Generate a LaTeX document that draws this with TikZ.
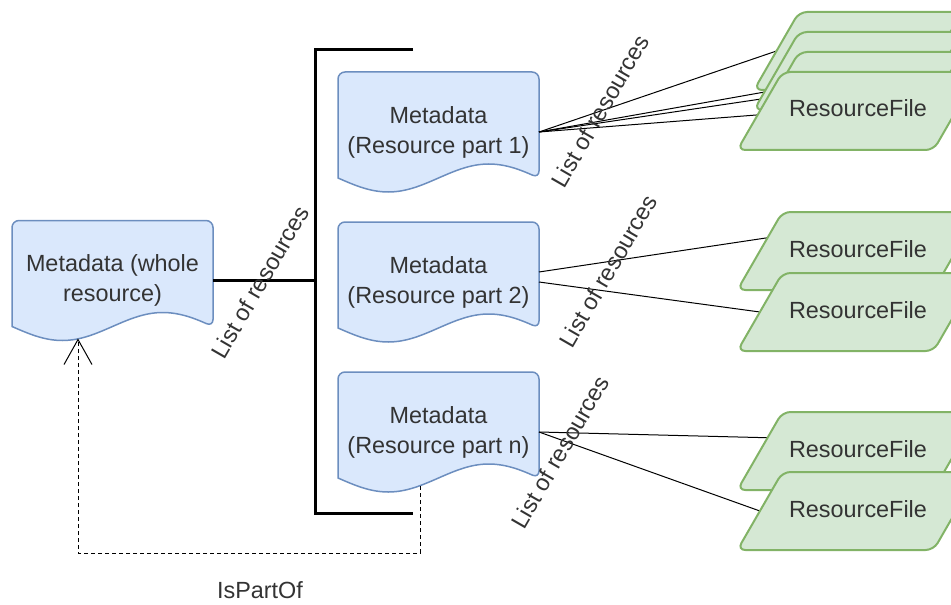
\documentclass[tikz,border=0pt]{standalone}
\usepackage{fontspec}
\setmainfont{Liberation Sans}
\usetikzlibrary{shapes.geometric, arrows.meta, calc, backgrounds}
\definecolor{docblue}{HTML}{DAE8FC}
\definecolor{docedge}{HTML}{6C8EBF}
\definecolor{filegreen}{HTML}{D5E8D4}
\definecolor{fileedge}{HTML}{82B366}
\definecolor{txt}{HTML}{333333}
\begin{document}
\begin{tikzpicture}[x=0.5pt, y=-0.5pt,
    every node/.style={font=\fontsize{11.7}{15}\selectfont, text=txt},
    doc/.style={minimum width=100.5pt, minimum height=60pt, inner sep=0pt, outer sep=0pt, align=center},
    docshape/.style={draw=docedge, fill=docblue, line width=0.75pt},
    file/.style={trapezium, trapezium left angle=60, trapezium right angle=120, trapezium stretches body,
        text height=8.5pt, text depth=2.5pt, inner ysep=14pt, outer sep=0pt,
        minimum width=104pt, minimum height=39pt, draw=fileedge, fill=filegreen, line width=1pt, rounded corners=4pt},
    link/.style={line width=0.5pt},
    bracket/.style={line width=1.5pt},
    lbl/.style={rotate=60, inner sep=0pt},
    partof/.style={dash pattern=on 2pt off 1.5pt, line width=0.5pt, -{Straight Barb[length=12.5pt, width=14pt]}}]
    \useasboundingbox (0,0) rectangle (951,604);
    % Metadata documents
    \node[doc] (whole) at (112.5,280.5) {Metadata (whole\\resource)};
    \node[doc] (part1) at (438.5,132) {Metadata\\(Resource part 1)};
    \node[doc] (part2) at (438.5,282) {Metadata\\(Resource part 2)};
    \node[doc] (partn) at (438.5,432) {Metadata\\(Resource part n)};
    % Resource files of part 1 (back to front)
    \node[file] (f1a) at (858,51) {};
    \node[file] (f1b) at (858,71) {};
    \node[file] (f1c) at (858,91) {};
    \node[file] (f1d) at (858,111) {ResourceFile};
    % Resource files of part 2
    \node[file] (f2a) at (858,251) {ResourceFile};
    \node[file] (f2b) at (858,312) {ResourceFile};
    % Resource files of part n
    \node[file] (fna) at (858,451) {ResourceFile};
    \node[file] (fnb) at (858,511) {ResourceFile};
    \begin{scope}[on background layer]
        % Document outlines with wavy bottom
        \foreach \d in {whole,part1,part2,partn}
            \draw[docshape] ($(\d.south west)+(0,-14)$) [rounded corners=3.5pt] |- (\d.north east)
                -- ($(\d.south east)+(0,-14)$) [sharp corners] sin ++(-50.25,-14) cos ++(-50.25,14)
                sin ++(-50.25,14) cos ++(-50.25,-14) -- cycle;
        % Part 1 to its files
        \draw[link] (part1.east) -- (f1a.west);
        \draw[link] (part1.east) -- ($(f1b.bottom left corner)!0.23!(f1b.top left corner)$);
        \draw[link] (part1.east) -- ($(f1c.bottom left corner)!0.42!(f1c.top left corner)$);
        \draw[link] (part1.east) -- ($(f1d.bottom left corner)!0.45!(f1d.top left corner)$);
        % Part 2 to its files
        \draw[link] ([yshift=5pt]part2.east) -- ($(f2a.bottom left corner)!0.67!(f2a.top left corner)$);
        \draw[link] (part2.east) -- (f2b.west);
        % Part n to its files
        \draw[link] (partn.east) -- ($(fna.bottom left corner)!0.67!(fna.top left corner)$);
        \draw[link] (partn.east) -- (fnb.west);
    \end{scope}
    % Bracket of parts
    \coordinate (btopend) at (413,50);
    \coordinate (btop) at (315,50);
    \coordinate (bbot) at (315,513);
    \coordinate (bbotend) at (413,513);
    \draw[bracket] (btopend) -- (btop) -- (bbot) -- (bbotend);
    \draw[bracket] (whole.east) -- (whole.east -| btop);
    % Edge labels
    \node[lbl] (lblwhole) at (260,282) {List of resources};
    \node[lbl] (lbl1) at (600,111) {List of resources};
    \node[lbl] (lbl2) at (608,271) {List of resources};
    \node[lbl] (lbln) at (560,452) {List of resources};
    % IsPartOf back to the whole resource
    \coordinate (dcorner) at (78,553);
    \draw[partof] ($(partn.south)+(-18.5,-6)$) |- (dcorner) -- ($(whole.south -| dcorner)+(0,-2)$);
    \node (ispartof) at (260,590) {IsPartOf};
\end{tikzpicture}
\end{document}
